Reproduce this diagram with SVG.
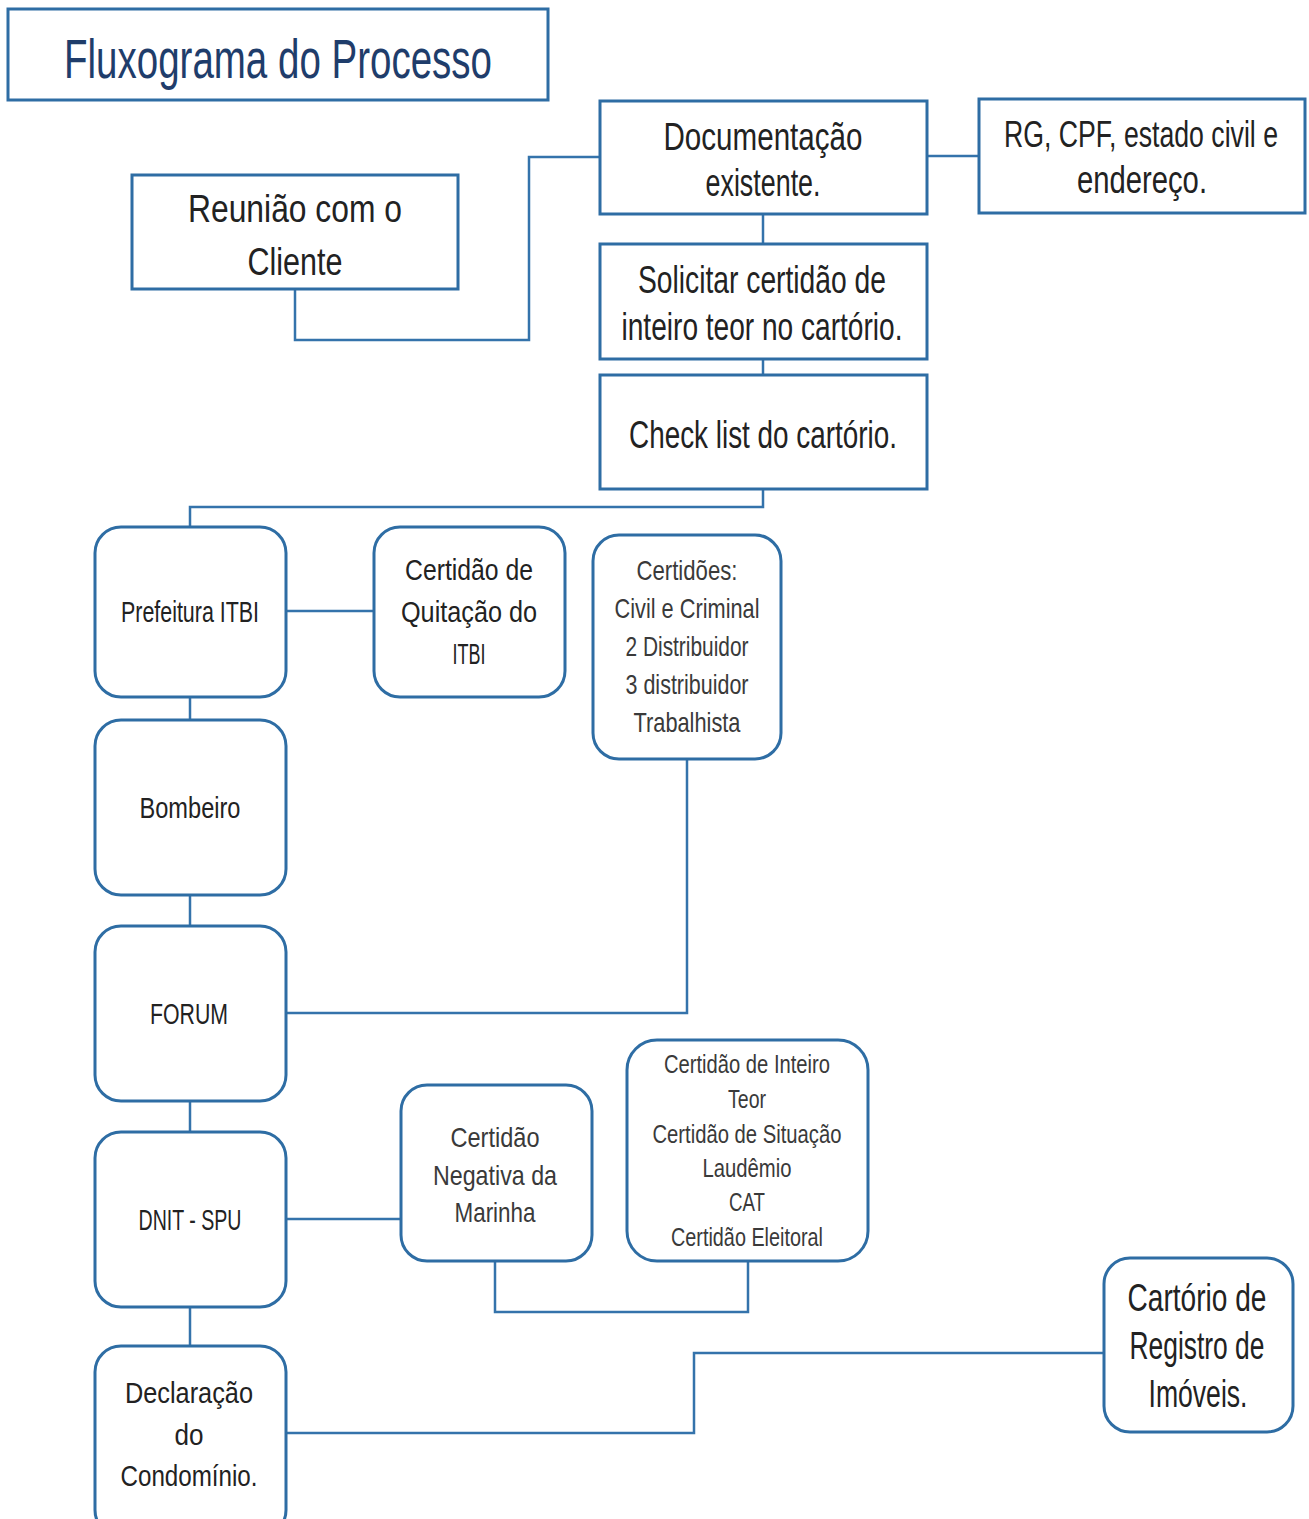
<svg xmlns="http://www.w3.org/2000/svg" width="1309" height="1519" viewBox="0 0 1309 1519">
<style>
.box{fill:#fff;stroke:#2E6DA4;stroke-width:3}
.con{fill:none;stroke:#3473AB;stroke-width:2.5}
text{font-family:"Liberation Sans",Arial,sans-serif;text-anchor:middle;fill:#222}
.t1{font-size:38px}
.t1s{font-size:29px}
.t1c{font-size:34px}
.t2{font-size:30px}
.t3{font-size:28px;fill:#3a3a3a}
.t4{font-size:26px;fill:#3a3a3a}
.title{font-size:56px;fill:#1F3D6B}
</style>
<rect width="1309" height="1519" fill="#fff"/>
<g id="connectors">
<polyline class="con" points="295,289 295,340 529,340 529,157 600,157"/>
<line class="con" x1="927" y1="156" x2="979" y2="156"/>
<line class="con" x1="763" y1="214" x2="763" y2="244"/>
<line class="con" x1="763" y1="359" x2="763" y2="375"/>
<polyline class="con" points="763,489 763,507 190,507 190,527"/>
<line class="con" x1="286" y1="611" x2="374" y2="611"/>
<line class="con" x1="190" y1="697" x2="190" y2="720"/>
<line class="con" x1="190" y1="895" x2="190" y2="926"/>
<polyline class="con" points="286,1013 687,1013 687,759"/>
<line class="con" x1="190" y1="1101" x2="190" y2="1132"/>
<line class="con" x1="286" y1="1219" x2="401" y2="1219"/>
<polyline class="con" points="495,1261 495,1312 748,1312 748,1261"/>
<line class="con" x1="190" y1="1307" x2="190" y2="1346"/>
<polyline class="con" points="286,1433 694,1433 694,1353 1104,1353"/>
</g>
<g id="title">
<rect class="box" x="8" y="9" width="540" height="91"/>
<text class="title" x="278" y="78" textLength="428" lengthAdjust="spacingAndGlyphs">Fluxograma do Processo</text>
</g>
<g id="documentacao">
<rect class="box" x="600" y="101" width="327" height="113"/>
<text class="t1" x="763" y="150" textLength="199" lengthAdjust="spacingAndGlyphs">Documentação</text>
<text class="t1" x="763" y="196" textLength="115" lengthAdjust="spacingAndGlyphs">existente.</text>
</g>
<g id="rg">
<rect class="box" x="979" y="99" width="326" height="114"/>
<text class="t1s" x="1141" y="147" textLength="274" lengthAdjust="spacingAndGlyphs" transform="translate(0,147) scale(1,1.3) translate(0,-147)">RG, CPF, estado civil e</text>
<text class="t1" x="1142" y="193" textLength="130" lengthAdjust="spacingAndGlyphs">endereço.</text>
</g>
<g id="reuniao">
<rect class="box" x="132" y="175" width="326" height="114"/>
<text class="t1" x="295" y="222" textLength="214" lengthAdjust="spacingAndGlyphs">Reunião com o</text>
<text class="t1" x="295" y="275" textLength="95" lengthAdjust="spacingAndGlyphs">Cliente</text>
</g>
<g id="solicitar">
<rect class="box" x="600" y="244" width="327" height="115"/>
<text class="t1" x="762" y="293" textLength="248" lengthAdjust="spacingAndGlyphs">Solicitar certidão de</text>
<text class="t1" x="762" y="340" textLength="281" lengthAdjust="spacingAndGlyphs">inteiro teor no cartório.</text>
</g>
<g id="checklist">
<rect class="box" x="600" y="375" width="327" height="114"/>
<text class="t1" x="763" y="448" textLength="268" lengthAdjust="spacingAndGlyphs">Check list do cartório.</text>
</g>
<g id="prefeitura">
<rect class="box" x="95" y="527" width="191" height="170" rx="26"/>
<text class="t2" x="190" y="622" textLength="138" lengthAdjust="spacingAndGlyphs">Prefeitura ITBI</text>
</g>
<g id="quitacao">
<rect class="box" x="374" y="527" width="191" height="170" rx="26"/>
<text class="t2" x="469" y="580" textLength="128" lengthAdjust="spacingAndGlyphs">Certidão de</text>
<text class="t2" x="469" y="622" textLength="136" lengthAdjust="spacingAndGlyphs">Quitação do</text>
<text class="t2" x="469" y="664" textLength="33" lengthAdjust="spacingAndGlyphs">ITBI</text>
</g>
<g id="certidoes">
<rect class="box" x="593" y="535" width="188" height="224" rx="26"/>
<text class="t3" x="687" y="580" textLength="101" lengthAdjust="spacingAndGlyphs">Certidões:</text>
<text class="t3" x="687" y="618" textLength="145" lengthAdjust="spacingAndGlyphs">Civil e Criminal</text>
<text class="t3" x="687" y="656" textLength="123" lengthAdjust="spacingAndGlyphs">2 Distribuidor</text>
<text class="t3" x="687" y="694" textLength="123" lengthAdjust="spacingAndGlyphs">3 distribuidor</text>
<text class="t3" x="687" y="732" textLength="107" lengthAdjust="spacingAndGlyphs">Trabalhista</text>
</g>
<g id="bombeiro">
<rect class="box" x="95" y="720" width="191" height="175" rx="26"/>
<text class="t2" x="190" y="818" textLength="101" lengthAdjust="spacingAndGlyphs">Bombeiro</text>
</g>
<g id="forum">
<rect class="box" x="95" y="926" width="191" height="175" rx="26"/>
<text class="t2" x="189" y="1024" textLength="78" lengthAdjust="spacingAndGlyphs">FORUM</text>
</g>
<g id="dnit">
<rect class="box" x="95" y="1132" width="191" height="175" rx="26"/>
<text class="t2" x="190" y="1230" textLength="103" lengthAdjust="spacingAndGlyphs">DNIT - SPU</text>
</g>
<g id="marinha">
<rect class="box" x="401" y="1085" width="191" height="176" rx="26"/>
<text class="t3" x="495" y="1147" textLength="89" lengthAdjust="spacingAndGlyphs">Certidão</text>
<text class="t3" x="495" y="1185" textLength="124" lengthAdjust="spacingAndGlyphs">Negativa da</text>
<text class="t3" x="495" y="1222" textLength="81" lengthAdjust="spacingAndGlyphs">Marinha</text>
</g>
<g id="inteiroteor">
<rect class="box" x="627" y="1040" width="241" height="221" rx="30"/>
<text class="t4" x="747" y="1073" textLength="166" lengthAdjust="spacingAndGlyphs">Certidão de Inteiro</text>
<text class="t4" x="747" y="1108" textLength="38" lengthAdjust="spacingAndGlyphs">Teor</text>
<text class="t4" x="747" y="1143" textLength="189" lengthAdjust="spacingAndGlyphs">Certidão de Situação</text>
<text class="t4" x="747" y="1177" textLength="89" lengthAdjust="spacingAndGlyphs">Laudêmio</text>
<text class="t4" x="747" y="1211" textLength="36" lengthAdjust="spacingAndGlyphs">CAT</text>
<text class="t4" x="747" y="1246" textLength="152" lengthAdjust="spacingAndGlyphs">Certidão Eleitoral</text>
</g>
<g id="declaracao">
<rect class="box" x="95" y="1346" width="191" height="190" rx="26"/>
<text class="t2" x="189" y="1403" textLength="128" lengthAdjust="spacingAndGlyphs">Declaração</text>
<text class="t2" x="189" y="1445" textLength="29" lengthAdjust="spacingAndGlyphs">do</text>
<text class="t2" x="189" y="1486" textLength="137" lengthAdjust="spacingAndGlyphs">Condomínio.</text>
</g>
<g id="cartorio">
<rect class="box" x="1104" y="1258" width="189" height="174" rx="26"/>
<text class="t1c" x="1197" y="1311" textLength="139" lengthAdjust="spacingAndGlyphs" transform="translate(0,1311) scale(1,1.12) translate(0,-1311)">Cartório de</text>
<text class="t1c" x="1197" y="1359" textLength="135" lengthAdjust="spacingAndGlyphs" transform="translate(0,1359) scale(1,1.12) translate(0,-1359)">Registro de</text>
<text class="t1c" x="1198" y="1407" textLength="99" lengthAdjust="spacingAndGlyphs" transform="translate(0,1407) scale(1,1.12) translate(0,-1407)">Imóveis.</text>
</g>
</svg>
